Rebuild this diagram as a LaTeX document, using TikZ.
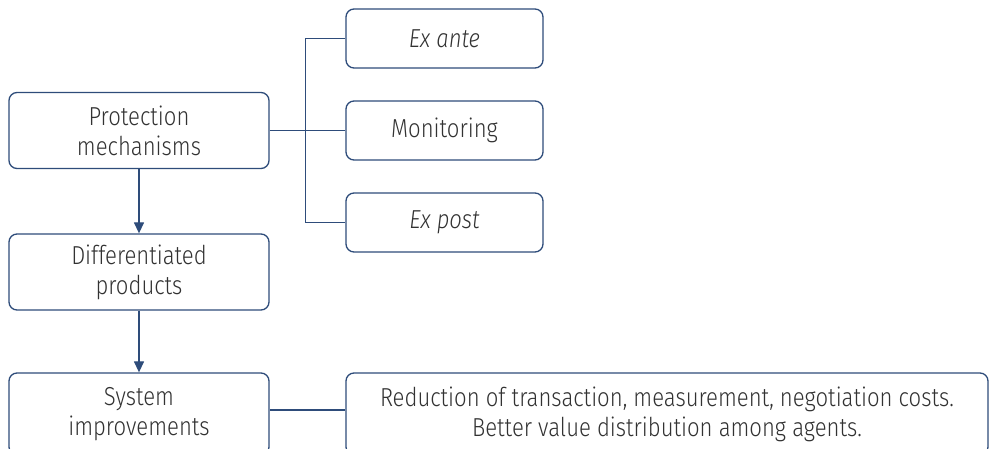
\documentclass[tikz,border=0pt]{standalone}
\usepackage{fontspec}
\setmainfont{Fira Sans}[UprightFont=* Light, ItalicFont=* Light Italic, FakeStretch=0.85]
\usetikzlibrary{arrows.meta}
\definecolor{linec}{RGB}{46,76,122}
\definecolor{textc}{RGB}{50,50,50}
\begin{document}
\begin{tikzpicture}[x=1pt,y=-1pt,
  box/.style={draw=linec, line width=1.3pt, rounded corners=8pt, align=center,
    text=textc, font=\fontsize{26}{30}\selectfont, inner sep=0pt},
  conn/.style={draw=linec, line width=1.3pt},
  arr/.style={conn, -{Triangle[length=11pt,width=10pt]}}]
\useasboundingbox (0,0) rectangle (989,449);
\clip (0,0) rectangle (989,449);
\node[box, minimum width=260pt, minimum height=76pt] (prot) at (139,130.5) {Protection\\mechanisms};
\node[box, minimum width=260pt, minimum height=76pt] (diff) at (139,272) {Differentiated\\products};
\node[box, minimum width=260pt, minimum height=82pt] (sys) at (139,414) {System\\improvements};
\node[box, minimum width=197pt, minimum height=59pt] (ante) at (444.5,38.5) {\itshape Ex ante};
\node[box, minimum width=197pt, minimum height=59pt] (mon) at (444.5,130.5) {Monitoring};
\node[box, minimum width=197pt, minimum height=59pt] (post) at (444.5,222.5) {\itshape Ex post};
\node[box, minimum width=642pt, minimum height=82pt] (res) at (667,414) {Reduction of transaction, measurement, negotiation costs.\\Better value distribution among agents.};
\draw[conn] (prot.east) -- (mon.west);
\draw[conn] (ante.west) -- ++(-40,0) |- (post.west);
\draw[arr] (prot.south) -- (diff.north);
\draw[arr] (diff.south) -- (sys.north);
\draw[conn] (sys.east |- 0,410) -- (res.west |- 0,410);
\end{tikzpicture}
\end{document}
